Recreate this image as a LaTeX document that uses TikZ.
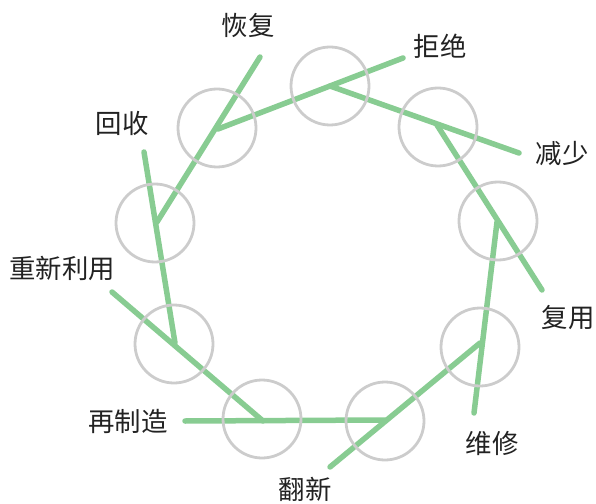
\documentclass[tikz,border=0pt]{standalone}
\usepackage{fontspec}
\setmainfont{Noto Sans CJK SC}
\definecolor{lgreen}{RGB}{136,204,146}
\definecolor{lgray}{RGB}{204,204,204}
\definecolor{txt}{RGB}{34,34,34}
\begin{document}
\begin{tikzpicture}[x=1bp,y=-1bp,
  ring/.style={circle,draw=lgray,line width=2.8bp,minimum size=78bp,inner sep=0pt},
  link/.style={draw=lgreen,line width=5.5bp,line cap=round},
  lbl/.style={text=txt,font=\fontsize{26.5}{28}\selectfont,inner sep=0pt}]
\useasboundingbox (0,0) rectangle (596,504);
% vertices
\coordinate (v1) at (330,86);
\coordinate (v2) at (437,125);
\coordinate (v3) at (497,222);
\coordinate (v4) at (480,343);
\coordinate (v5) at (385,420);
\coordinate (v6) at (263,421);
\coordinate (v7) at (175,343);
\coordinate (v8) at (157,222);
\coordinate (v9) at (218,129);
% free ends
\coordinate (e1) at (403,58);
\coordinate (e2) at (519,153);
\coordinate (e3) at (542,290);
\coordinate (e4) at (474,413);
\coordinate (e5) at (330,467);
\coordinate (e6) at (185,421);
\coordinate (e7) at (112,292);
\coordinate (e8) at (144,152);
\coordinate (e9) at (260,57);
% links
\draw[link] (v9) -- (e1);
\draw[link] (v1) -- (e2);
\draw[link] (v2) -- (e3);
\draw[link] (v3) -- (e4);
\draw[link] (v4) -- (e5);
\draw[link] (v5) -- (e6);
\draw[link] (v6) -- (e7);
\draw[link] (v7) -- (e8);
\draw[link] (v8) -- (e9);
% circles
\node[ring] (c1) at (330,86) {};
\node[ring] (c2) at (438,127) {};
\node[ring] (c3) at (498,221) {};
\node[ring] (c4) at (480,347) {};
\node[ring] (c5) at (385,421) {};
\node[ring] (c6) at (262,419) {};
\node[ring] (c7) at (174,344) {};
\node[ring] (c8) at (155,223) {};
\node[ring] (c9) at (217,128) {};
% labels
\node[lbl] (l1) at (440,46) {拒绝};
\node[lbl] (l2) at (562,154) {减少};
\node[lbl] (l3) at (568,318) {复用};
\node[lbl] (l4) at (492,443) {维修};
\node[lbl] (l5) at (305,489) {翻新};
\node[lbl] (l6) at (128,421) {再制造};
\node[lbl] (l7) at (62,268) {重新利用};
\node[lbl] (l8) at (122,123) {回收};
\node[lbl] (l9) at (248,25) {恢复};
\end{tikzpicture}
\end{document}
